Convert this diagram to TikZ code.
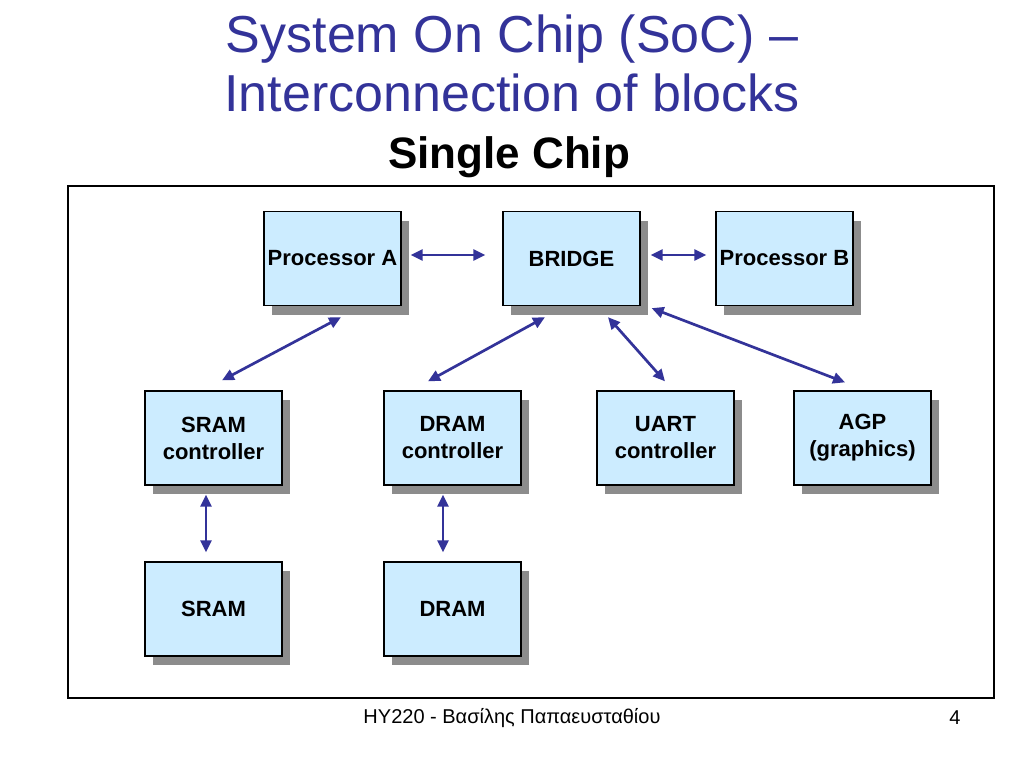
\documentclass[tikz,border=0pt]{standalone}
\usepackage{fontspec}
\setmainfont{Liberation Sans}
\usetikzlibrary{arrows.meta,shadows,calc}
\definecolor{titleblue}{HTML}{333399}
\definecolor{boxfill}{HTML}{CCECFF}
\definecolor{arrblue}{HTML}{333399}
\tikzset{
  blk/.style={draw=black, line width=1.3pt, fill=boxfill, minimum width=137pt, minimum height=94pt,
    inner sep=0pt, align=center, font=\fontsize{22}{27}\selectfont\bfseries,
    drop shadow={shadow xshift=8pt, shadow yshift=-9pt, fill=gray!90, opacity=1}},
  link/.style={draw=arrblue, line width=2.7pt, {Triangle[length=12pt,width=11pt]}-{Triangle[length=12pt,width=11pt]}},
}
\begin{document}
\begin{tikzpicture}[x=1pt,y=-1pt]
\useasboundingbox (0,0) rectangle (1024,768);
% titles
\node[text=titleblue, font=\fontsize{52}{58}\selectfont] (t1) at (512,39) {System On Chip (SoC) –};
\node[text=titleblue, font=\fontsize{52}{58}\selectfont] (t2) at (512,93) {Interconnection of blocks};
\node[font=\fontsize{44}{50}\selectfont\bfseries] (t3) at (509,157) {Single Chip};
% frame
\draw[line width=2pt] (68,186) rectangle (994,698);
% blocks
\node[blk] (ProcA) at (332.5,258.5) {Processor A};
\node[blk] (BRIDGE) at (571.5,258.5) {BRIDGE};
\node[blk] (ProcB) at (784.5,258.5) {Processor B};
\node[blk] (SRAMc) at (213.5,438) {SRAM\\controller};
\node[blk] (DRAMc) at (452.5,438) {DRAM\\controller};
\node[blk] (UART) at (665.5,438) {UART\\controller};
\node[blk] (AGP) at (862.5,438) {AGP\\(graphics)};
\node[blk] (SRAM) at (213.5,609) {SRAM};
\node[blk] (DRAM) at (452.5,609) {DRAM};
% connectors
\draw[link] ($(ProcA.east)+(9,-3.5)$) -- ($(BRIDGE.west)+(-17,-3.5)$);
\draw[link] ($(BRIDGE.east)+(10,-3.5)$) -- ($(ProcB.west)+(-9,-3.5)$);
\draw[link] ($(SRAMc.north)+(8.5,-10)$) -- ($(ProcA.south)+(8.5,11)$);
\draw[link] ($(DRAMc.north)+(-24.5,-9)$) -- ($(BRIDGE.south)+(-26.5,11)$);
\draw[link] ($(UART.north)+(-0.5,-9)$) -- ($(BRIDGE.south)+(36.5,11)$);
\draw[link] ($(AGP.north)+(-17.5,-8)$) -- ($(BRIDGE.south east)+(11,2)$);
\draw[link] ($(SRAMc.south)+(-7.5,9)$) -- ($(SRAM.north)+(-7.5,-9)$);
\draw[link] ($(DRAMc.south)+(-9.5,9)$) -- ($(DRAM.north)+(-9.5,-9)$);
% footer
\node[font=\fontsize{20}{24}\selectfont] (foot) at (512,718) {HY220 - Βασίλης Παπαευσταθίου};
\node[font=\fontsize{20}{24}\selectfont] (page) at (955,718) {4};
\end{tikzpicture}
\end{document}
